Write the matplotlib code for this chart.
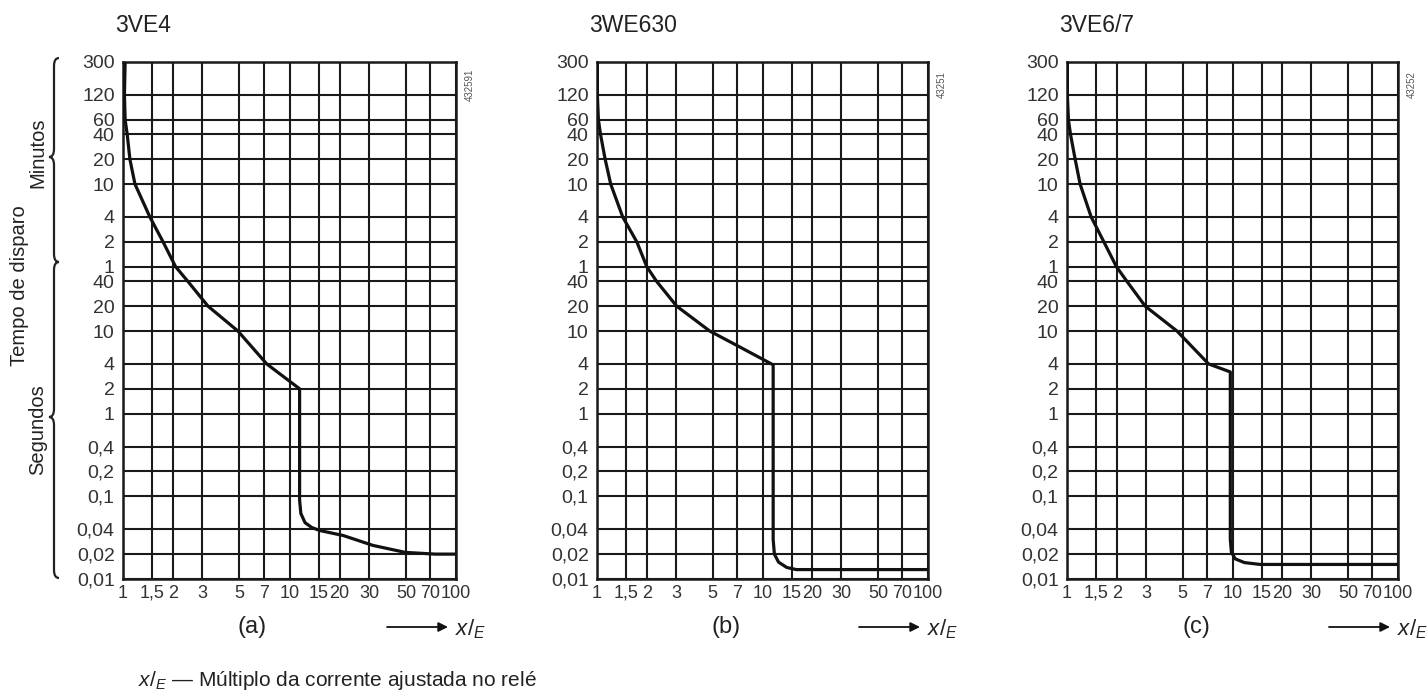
import matplotlib
matplotlib.use('Agg')
import matplotlib.pyplot as plt
from matplotlib.path import Path
from matplotlib.patches import PathPatch
from matplotlib.ticker import FixedLocator, FixedFormatter, NullLocator

plt.rcParams['font.family'] = ['Liberation Sans', 'DejaVu Sans']
plt.rcParams['mathtext.fontset'] = 'custom'
plt.rcParams['mathtext.rm'] = 'Liberation Sans'
plt.rcParams['mathtext.it'] = 'Liberation Sans:italic'

# ---------------- data ----------------
titles = ['3VE4', '3WE630', '3VE6/7']
panel_tags = ['(a)', '(b)', '(c)']
codes = ['432591', '43251', '43252']

x_ticks = [1, 1.5, 2, 3, 5, 7, 10, 15, 20, 30, 50, 70, 100]
x_tick_labels = ['1', '1,5', '2', '3', '5', '7', '10', '15', '20', '30', '50', '70', '100']
minute_ticks = [300, 120, 60, 40, 20, 10, 4, 2, 1]          # minutes
second_ticks = [40, 20, 10, 4, 2, 1, 0.4, 0.2, 0.1, 0.04, 0.02, 0.01]  # seconds
y_tick_labels = ['300', '120', '60', '40', '20', '10', '4', '2', '1',
                 '40', '20', '10', '4', '2', '1', '0,4', '0,2', '0,1', '0,04', '0,02', '0,01']

# curves: multiple of set current vs trip time (seconds)
a_x = [1.03, 1.02, 1.03, 1.06, 1.1, 1.18, 1.45, 1.74, 2.07, 2.45, 3.24, 4.9, 7.3, 11.5,
       11.5, 11.5, 11.7, 12.4, 13.6, 15.2, 21, 31.7, 49.5, 75, 100]
a_t = [18000, 7200, 3600, 2400, 1200, 600, 240, 120, 60, 40, 20, 10, 4, 2,
       0.5, 0.09, 0.062, 0.048, 0.042, 0.0386, 0.0336, 0.0255, 0.021, 0.02, 0.02]

b_x = [1.005, 1.005, 1.02, 1.05, 1.12, 1.21, 1.43, 1.74, 2.0, 2.29, 3.03, 4.8, 7.0, 11.6,
       11.6, 11.6, 11.8, 12.5, 14, 16, 100]
b_t = [18000, 7200, 3600, 2400, 1200, 600, 240, 120, 60, 40, 20, 10, 6.7, 3.9,
       0.5, 0.03, 0.02, 0.016, 0.0138, 0.013, 0.013]

c_x = [1.005, 1.005, 1.02, 1.05, 1.12, 1.2, 1.4, 1.67, 1.99, 2.3, 2.97, 4.62, 7.17, 9.7,
       9.7, 9.7, 9.85, 10.4, 11.8, 14.7, 100]
c_t = [18000, 7200, 3600, 2400, 1200, 600, 240, 120, 60, 40, 20, 10, 4, 3.2,
       0.5, 0.03, 0.021, 0.0175, 0.0158, 0.015, 0.015]

curves_x = [a_x, b_x, c_x]
curves_t = [a_t, b_t, c_t]

# ---------------- layout ----------------
W, H = 1428, 695
fig = plt.figure(figsize=(W / 100, H / 100), dpi=100)

ov = fig.add_axes([0, 0, 1, 1])
ov.set_xlim(0, W)
ov.set_ylim(H, 0)
ov.axis('off')
ov.patch.set_visible(False)

panel_lr = [(123, 456), (597, 928), (1067, 1398)]
top_px, bot_px = 62, 579

y_ticks = [m * 60 for m in minute_ticks] + second_ticks

for i, (l, r) in enumerate(panel_lr):
    ax = fig.add_axes([l / W, (H - bot_px) / H, (r - l) / W, (bot_px - top_px) / H])
    ax.plot(curves_x[i], curves_t[i], color='#111111', lw=2.3, solid_joinstyle='round',
            zorder=5, clip_on=True)
    ax.set_xscale('log')
    ax.set_yscale('log')
    ax.set_xlim(1, 100)
    ax.set_ylim(0.01, 18000)
    ax.xaxis.set_major_locator(FixedLocator(x_ticks))
    ax.xaxis.set_major_formatter(FixedFormatter(x_tick_labels))
    ax.xaxis.set_minor_locator(NullLocator())
    ax.yaxis.set_major_locator(FixedLocator(y_ticks))
    ax.yaxis.set_major_formatter(FixedFormatter(y_tick_labels))
    ax.yaxis.set_minor_locator(NullLocator())
    ax.grid(True, which='major', color='#1a1a1a', lw=1.5)
    ax.set_axisbelow(True)
    ax.tick_params(axis='y', length=0, pad=6, labelsize=14, colors='#333333')
    ax.tick_params(axis='x', length=0, pad=4, labelsize=13, colors='#333333')
    for s in ax.spines.values():
        s.set_linewidth(1.8)
        s.set_color('#1a1a1a')

    ov.text(l - 8, 26, titles[i], ha='left', va='center', fontsize=16.5, color='#222222')
    ov.text(r + 14, 85, codes[i], ha='center', va='center', rotation=90, fontsize=7,
            color='#555555')
    ov.text(l + 129, 627, panel_tags[i], ha='center', va='center', fontsize=17,
            color='#222222')
    ov.annotate('', xy=(r - 8, 627), xytext=(r - 69, 627),
                arrowprops=dict(arrowstyle='-|>', color='#111111', lw=1.3,
                                mutation_scale=14, shrinkA=0, shrinkB=0))
    ov.text(r - 1, 629, r'$x/_{E}$', ha='left', va='center', fontsize=16, color='#222222')

# side labels
ov.text(20, 286, 'Tempo de disparo', rotation=90, ha='center', va='center', fontsize=14.5,
        color='#222222')
ov.text(38, 153, 'Minutos', rotation=90, ha='center', va='center', fontsize=14.5,
        color='#222222')
ov.text(38, 430, 'Segundos', rotation=90, ha='center', va='center', fontsize=14.5,
        color='#222222')


def brace(xl, y0, y1, ym, xe, xt, rr=8):
    verts = [(xe, y0), (xl, y0), (xl, y0 + rr),
             (xl, ym - rr), (xl, ym), (xt, ym),
             (xl, ym), (xl, ym + rr),
             (xl, y1 - rr), (xl, y1), (xe, y1)]
    codes_ = [Path.MOVETO, Path.CURVE3, Path.CURVE3,
              Path.LINETO, Path.CURVE3, Path.CURVE3,
              Path.CURVE3, Path.CURVE3,
              Path.LINETO, Path.CURVE3, Path.CURVE3]
    ov.add_patch(PathPatch(Path(verts, codes_), fill=False, lw=1.6, color='#222222'))


brace(54, 58, 262, 157, 59, 49)
brace(54, 262, 578, 417, 59, 49)

# footnote
ov.text(138, 680, r'$x/_{E}$' + ' \u2014 Múltiplo da corrente ajustada no relé', ha='left',
        va='center', fontsize=15, color='#222222')

fig.savefig('out.png', dpi=100)
